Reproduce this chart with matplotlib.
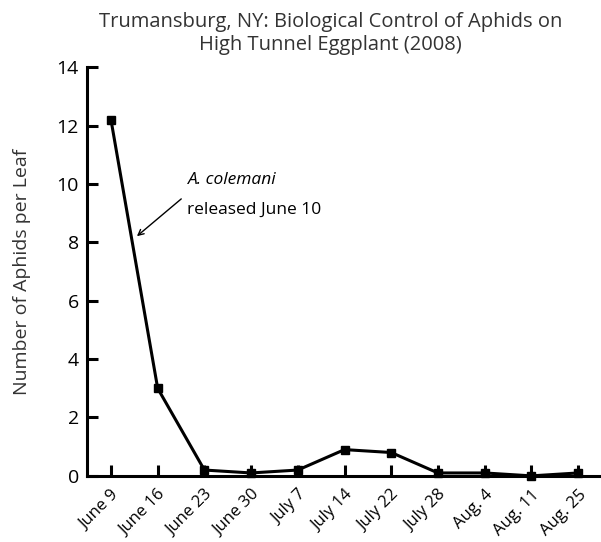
# import libraries
import matplotlib
matplotlib.use('Agg')
import matplotlib.pyplot as plt

# data
dates = ['June 9', 'June 16', 'June 23', 'June 30', 'July 7', 'July 14',
         'July 22', 'July 28', 'Aug. 4', 'Aug. 11', 'Aug. 25']
aphids = [12.2, 3.0, 0.2, 0.1, 0.2, 0.9, 0.8, 0.1, 0.1, 0.0, 0.1]
y_ticks = [0, 2, 4, 6, 8, 10, 12, 14]

plt.rcParams['font.family'] = ['Open Sans', 'DejaVu Sans']

fig = plt.figure(figsize=(6.01, 5.42), dpi=100)
ax = fig.add_axes([0.145, 0.122, 0.855, 0.754])

x = list(range(len(dates)))
ax.plot(x, aphids, color='black', lw=2.2, marker='s', markersize=5.5,
        clip_on=False, zorder=3)

# axis formatting
ax.set_xlim(-0.51, 10.49)
ax.set_ylim(0, 14)
ax.set_xticks(x)
ax.set_xticklabels(dates, rotation=45, ha='right', rotation_mode='anchor',
                   fontsize=12)
ax.set_yticks(y_ticks)
ax.set_yticklabels([str(v) for v in y_ticks], fontsize=14)
ax.tick_params(axis='both', direction='in', length=8, width=2.2)
ax.tick_params(axis='x', pad=8)
ax.tick_params(axis='y', pad=6)
for side in ['top', 'right']:
    ax.spines[side].set_visible(False)
for side in ['left', 'bottom']:
    ax.spines[side].set_linewidth(2.2)

ax.set_ylabel('Number of Aphids per Leaf', fontsize=14, color='#333333',
              labelpad=18)
fig.text(0.55, 0.978, 'Trumansburg, NY: Biological Control of Aphids on\n'
         'High Tunnel Eggplant (2008)', ha='center', va='top', fontsize=14.5,
         color='#333333', linespacing=1.2)

# annotation
ax.annotate('', xy=(0.51, 8.15), xytext=(1.55, 9.55),
            arrowprops=dict(arrowstyle='->', color='black', lw=1.0))
ax.text(1.65, 10.15, 'A. colemani', style='italic', fontsize=12.5,
        va='center', ha='left')
ax.text(1.62, 9.1, 'released June 10', fontsize=12.5, va='center', ha='left')

plt.savefig('out.png', dpi=100)
